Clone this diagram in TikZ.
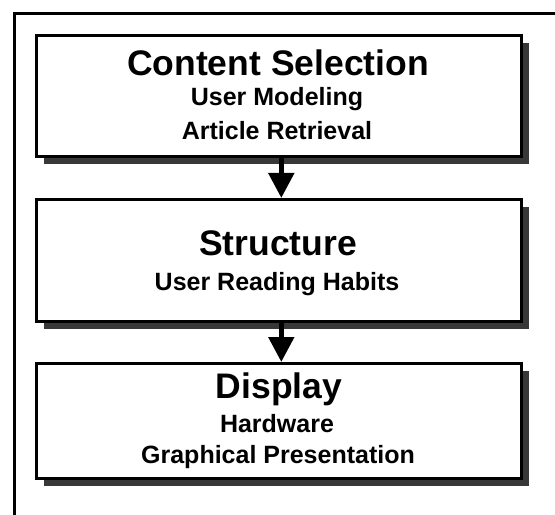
\documentclass[tikz,border=0pt]{standalone}
\usepackage{fontspec}
\setmainfont{Liberation Sans}
\usetikzlibrary{arrows.meta,shadows}
\tikzset{
  stagebox/.style={draw=black, line width=2.6bp, fill=white, rectangle,
    minimum width=485bp, inner sep=0pt, anchor=north west,
    drop shadow={shadow xshift=8bp, shadow yshift=-8bp, fill=black!78, opacity=1}},
  titletext/.style={anchor=base, inner sep=0pt, font=\bfseries\fontsize{35.5bp}{40bp}\selectfont},
  subtext/.style={anchor=base, inner sep=0pt, font=\bfseries\fontsize{25bp}{30bp}\selectfont},
  flowarrow/.style={line width=5bp, -{Triangle[width=25bp,length=25bp]}},
  frameline/.style={line width=3bp}
}
\begin{document}
\begin{tikzpicture}[x=1bp,y=-1bp]
\useasboundingbox (0,0) rectangle (555,515);
% outer frame
\coordinate (fbl) at (14,515);
\coordinate (ftl) at (14,14);
\coordinate (ftr) at (555,14);
\draw[frameline] (fbl) -- (ftl) -- (ftr);
% boxes
\node[stagebox, minimum height=121bp] (b1) at (35,34) {};
\node[stagebox, minimum height=122bp] (b2) at (35,198) {};
\node[stagebox, minimum height=115bp] (b3) at (35,362) {};
% arrows
\draw[flowarrow] ([xshift=2.5bp]b1.south) -- ([xshift=2.5bp]b2.north);
\draw[flowarrow] ([xshift=2.5bp]b2.south) -- ([xshift=2.5bp]b3.north);
% texts
\node[titletext] (t1) at (278,76) {Content Selection};
\node[subtext] (s11) at (277,106) {User Modeling};
\node[subtext] (s12) at (277,140) {Article Retrieval};
\node[titletext] (t2) at (278,255) {Structure};
\node[subtext] (s21) at (277,290) {User Reading Habits};
\node[titletext] (t3) at (279,398) {Display};
\node[subtext] (s31) at (277,432) {Hardware};
\node[subtext] (s32) at (278,463) {Graphical Presentation};
\end{tikzpicture}
\end{document}
